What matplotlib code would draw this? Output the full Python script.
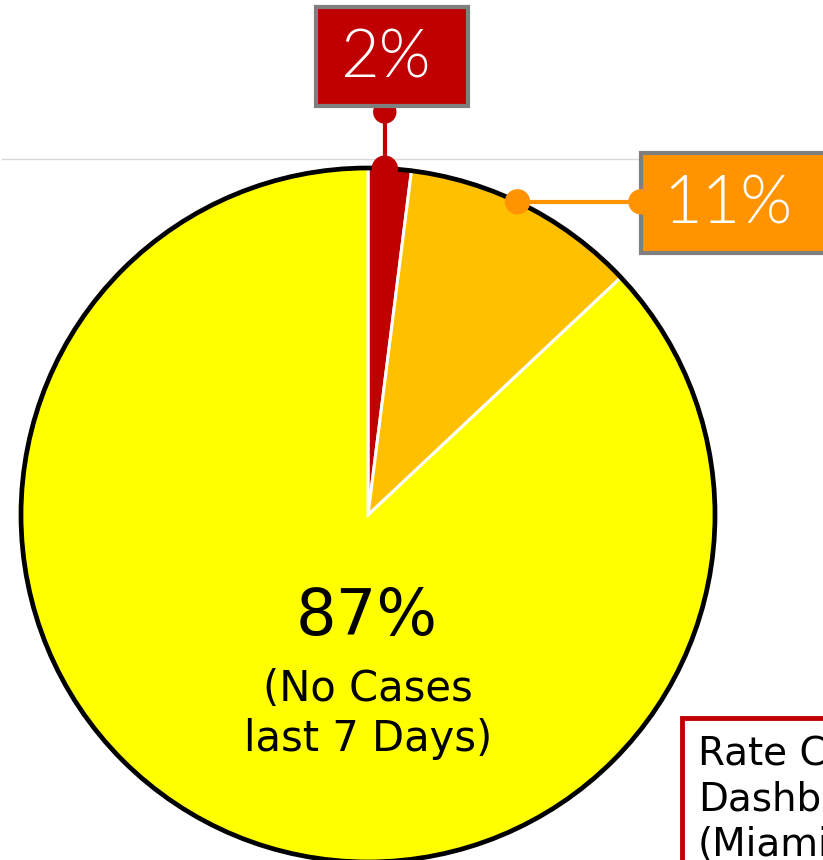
import matplotlib
matplotlib.use("Agg")
import matplotlib.pyplot as plt
from matplotlib.patches import Rectangle, Circle
import numpy as np

# share of areas
labels = ["2%", "11%", "87%"]
values = [2, 11, 87]
colors = ["#C00000", "#FFC000", "#FFFF00"]
box_colors = ["#C00000", "#FF9400"]
center_sub = "(No Cases\nlast 7 Days)"
note_text = "Rate Case\nDashboard\n(Miami-Dade)"

W, H = 823, 860


def Y(p):
    # pixel row -> data y
    return H - p


fig = plt.figure(figsize=(W / 100, H / 100), dpi=100)
ax = fig.add_axes([0, 0, 1, 1])

cx, cy, r = 368, Y(515), 347

# faint guide line behind the chart
ax.plot([2, 640], [Y(159), Y(159)], color="#D9D9D9", lw=1, zorder=0)

wedges, _ = ax.pie(values, colors=colors, startangle=90, counterclock=False,
                   center=(cx, cy), radius=r, frame=True,
                   wedgeprops=dict(edgecolor="white", linewidth=2.2))
ax.add_patch(Circle((cx, cy), r, fill=False, edgecolor="black", lw=3.4, zorder=3))

# angle of each wedge middle (clockwise from top)
cum = np.cumsum([0] + values)
mids = [(cum[i] + cum[i + 1]) / 2 / sum(values) * 2 * np.pi for i in range(len(values))]

# 2% label box
rx, ry = cx + r * np.sin(mids[0]) - 5, cy + r * np.cos(mids[0])
ax.add_patch(Rectangle((316, Y(106)), 152, 99, facecolor=box_colors[0],
                       edgecolor="#7F7F7F", lw=3, zorder=5))
ax.text(385, Y(60), labels[0], color="white", fontsize=48, family="Lato",
        fontweight=300, ha="center", va="center", zorder=6)
ax.plot([rx, rx], [ry, Y(112)], color=box_colors[0], lw=3, zorder=4)
ax.add_patch(Circle((rx, Y(112)), 11, color=box_colors[0], zorder=4))
ax.add_patch(Circle((rx, ry), 12.5, color=box_colors[0], zorder=6))

# 11% label box
ox, oy = cx + r * np.sin(mids[1]) - 8, cy + r * np.cos(mids[1]) + 4
ax.add_patch(Rectangle((641, Y(253)), 200, 100, facecolor=box_colors[1],
                       edgecolor="#7F7F7F", lw=3, zorder=5))
ax.text(728, Y(205), labels[1], color="white", fontsize=48, family="Lato",
        fontweight=300, ha="center", va="center", zorder=6)
ax.plot([ox, 641], [oy, oy], color=box_colors[1], lw=3, zorder=6)
ax.add_patch(Circle((ox, oy), 12, color=box_colors[1], zorder=6))
ax.add_patch(Circle((641, oy), 12, color=box_colors[1], zorder=6))

# centre text
ax.text(367, Y(617), labels[2], color="black", fontsize=46, family="DejaVu Sans",
        ha="center", va="center", zorder=6)
ax.text(368, Y(714), center_sub, color="black", fontsize=30, family="DejaVu Sans",
        ha="center", va="center", linespacing=1.25, zorder=6)

# clipped note box at bottom right
ax.add_patch(Rectangle((682, Y(890)), 200, 172, facecolor="white",
                       edgecolor="#C00000", lw=3.5, zorder=7))
ax.text(698, Y(735), note_text, color="black", fontsize=28, family="DejaVu Sans",
        ha="left", va="top", linespacing=1.25, zorder=8)

ax.set_xlim(0, W)
ax.set_ylim(0, H)
ax.set_aspect("auto")
ax.axis("off")

fig.savefig("out.png", dpi=100, facecolor="white")
